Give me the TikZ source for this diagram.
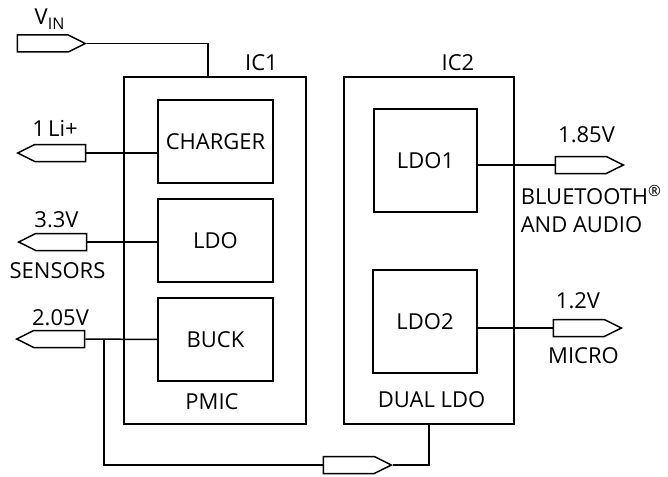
\documentclass[tikz,border=0pt]{standalone}
\usepackage{fontspec}
\setmainfont{Open Sans}
\usetikzlibrary{shapes.symbols}
\begin{document}
\begin{tikzpicture}[x=1pt,y=-1pt,line width=1.5pt,
  blk/.style={draw,rectangle,inner sep=0pt,font=\fontsize{22}{26}\selectfont},
  lbl/.style={inner sep=0pt,font=\fontsize{22}{28}\selectfont},
  pinR/.style={signal,signal to=east,draw,fill=white,minimum width=68pt,minimum height=17pt,inner sep=0pt,signal pointer angle=53,anchor=east},
  pinL/.style={signal,signal to=west,draw,fill=white,minimum width=68pt,minimum height=17pt,inner sep=0pt,signal pointer angle=53,anchor=west}]
\useasboundingbox (0,0) rectangle (668,476);
% ICs
\node[blk,minimum width=182pt,minimum height=347pt] (ic1) at (215,250.5) {};
\node[blk,minimum width=170pt,minimum height=347pt] (ic2) at (429,250.5) {};
% blocks
\node[blk,minimum width=115pt,minimum height=83pt] (chg) at (215.5,141.5) {CHARGER};
\node[blk,minimum width=115pt,minimum height=83pt] (ldo) at (215.5,240.5) {LDO};
\node[blk,minimum width=115pt,minimum height=83pt] (buck) at (215.5,339.5) {BUCK};
\node[blk,minimum width=103pt,minimum height=103pt] (ldo1) at (425.5,160.5) {LDO1};
\node[blk,minimum width=104pt,minimum height=103pt] (ldo2) at (425,321.5) {LDO2};
% pins
\node[pinR] (vin) at (87,43.5) {};
\node[pinL] (li) at (16,153) {};
\node[pinL] (s33) at (17,242) {};
\node[pinL] (s205) at (15,339) {};
\node[pinR] (p185) at (625,165) {};
\node[pinR] (p12) at (623,328) {};
\node[pinR] (pbot) at (393,465) {};
% labels
\node[lbl] (tvin) at (49.5,19) {V\raisebox{-0.2em}{\fontsize{16}{18}\selectfont IN}};
\node[lbl] (tic1) at (261.5,63) {IC1};
\node[lbl] (tic2) at (458,63) {IC2};
\node[lbl] (tpmic) at (212,402) {PMIC};
\node[lbl] (tdual) at (431.5,400) {DUAL LDO};
\node[lbl] (tli) at (55,128) {1\hspace{0.15em}Li+};
\node[lbl] (t33) at (56.5,220) {3.3V};
\node[lbl] (tsens) at (57.5,270.5) {SENSORS};
\node[lbl] (t205) at (60.5,318) {2.05V};
\node[lbl] (t185) at (586.5,135) {1.85V};
\node[lbl,anchor=north west,align=left] (tbt) at (520,185) {BLUETOOTH\textsuperscript{\textregistered}\\AND AUDIO};
\node[lbl] (t12) at (578,300.5) {1.2V};
\node[lbl] (tmic) at (583.5,355.5) {MICRO};
% connectors
\coordinate (vinj) at (208,77);
\coordinate (jn) at (104,339);
\coordinate (bl) at (104,465);
\coordinate (br) at (429,465);
\draw (vin.east) -| (vinj);
\draw (li.east) -- (li.east -| chg.west);
\draw (s33.east) -- (s33.east -| ldo.west);
\draw (s205.east) -- (buck.west);
\draw (jn) -- (bl) -- (pbot.west);
\draw (pbot.east) -- (br) -- (br |- ic2.south);
\draw (ldo1.east |- p185.west) -- (p185.west);
\draw (ldo2.east |- p12.west) -- (p12.west);
\end{tikzpicture}
\end{document}
